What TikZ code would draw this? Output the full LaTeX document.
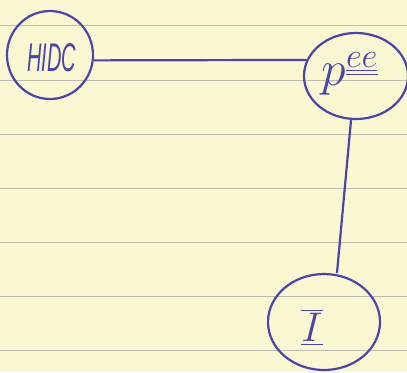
\documentclass[tikz,border=0pt]{standalone}
\usepackage{fontspec}
\setmainfont{Liberation Sans}
\definecolor{paper}{HTML}{FAF8D2}
\definecolor{rule}{HTML}{BDBDB2}
\definecolor{pen}{HTML}{4A45A8}
\usetikzlibrary{shapes.geometric}
\tikzset{
  bubble/.style={draw=pen, line width=1.1pt, ellipse, inner sep=0pt},
  link/.style={draw=pen, line width=1.1pt},
  ruled/.style={draw=rule, line width=0.5pt},
  hand/.style={text=pen, font=\itshape}
}
\begin{document}
\begin{tikzpicture}[x=0.5pt,y=-0.5pt]
\fill[paper] (0,0) rectangle (407,372);
\useasboundingbox (0,0) rectangle (407,372);
\foreach \yy in {25,80,134,188,242,296,350}
  \draw[ruled] (0,\yy) -- (407,\yy);
\node[bubble, minimum width=43pt, minimum height=44pt] (hidc) at (50,55) {};
\node[bubble, minimum width=52pt, minimum height=43pt] (pee) at (356,76) {};
\node[bubble, minimum width=56pt, minimum height=48pt] (ii) at (324,322) {};
\node[hand] at (52,58) {\scalebox{0.5}[1]{\fontsize{20}{20}\selectfont HIDC}};
\node[hand] at (350,74) {\fontsize{26}{26}\selectfont $p^{\underline{\underline{\scriptstyle ee}}}$};
\node[hand] at (312,327) {\fontsize{22}{22}\selectfont $\underline{\overline{I}}$};
\draw[link] (hidc.-7) -- (pee.162);
\draw[link] (pee.south) ++(-5,0) coordinate (pb) -- (ii.north -| 337,0);
\end{tikzpicture}
\end{document}
